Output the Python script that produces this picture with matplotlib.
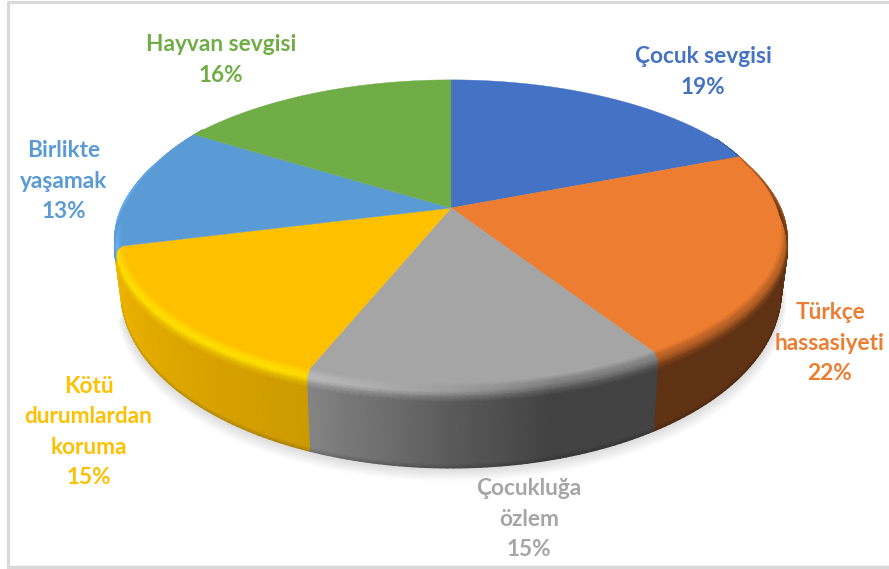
#!/usr/bin/env python3
"""Perspective 3D pie: slices are projected by hand, wall and bevel are gouraud meshes."""
import numpy as np
import matplotlib; matplotlib.use("Agg")
import matplotlib.pyplot as plt
from matplotlib.colors import to_rgb
from matplotlib.patches import Polygon

labels=["Çocuk sevgisi","Türkçe\nhassasiyeti","Çocukluğa\nözlem","Kötü\ndurumlardan\nkoruma","Birlikte\nyaşamak","Hayvan sevgisi"]
values=[19,22,15,15,13,16]
colors=["#4472C4","#ED7D31","#A5A5A5","#FFC000","#5B9BD5","#70AD47"]
label_xy=[(703,72),(830,343),(529,519),(88.5,432),(63.5,181),(221,60)]

CX,CY=451,208; R,H,K=331,149,0.163
edges=np.cumsum([0]+values)/sum(values)*360

def proj(th,r=1.0,dy=0.0,sx=1.0):
    t=np.radians(th); u=r*np.sin(t); v=r*np.cos(t); d=1+K*v
    return CX+sx*R*u/d, CY-H*v/d+dy

def wall_depth(th):
    return 52-30*np.cos(np.radians(th))
def shade(th):  # light comes from the left
    return np.interp(th,[60,165,180,201,260,290,360],[.40,.40,.55,.8,.95,1,1])
def shine(th):
    return np.interp(th,[165,205,270,290,300],[0,1,1,.5,0])
def bevel(th):
    return np.interp(th,[60,72,290,305],[0,1,1,0])

fig=plt.figure(figsize=(8.89,5.69),dpi=100)
ax=fig.add_axes([0,0,1,1]); ax.set_xlim(0,889); ax.set_ylim(569,0); ax.axis("off")

# frame
ax.plot([7.5,7.5,889],[569,1.5,1.5],color="#D9D9D9",lw=2.2,solid_capstyle="butt")
ax.plot([7.5,889],[566.5,566.5],color="#D9D9D9",lw=2.5,solid_capstyle="butt")

# soft shadow under the wall
ths=np.arange(80,256,1.0)
for k in range(12,0,-1):
    x,y=proj(ths,1.0,wall_depth(ths)+k*1.1,sx=0.985+k*0.0012)
    ax.add_patch(Polygon(np.c_[x,y],closed=True,fc="black",ec="none",alpha=0.012,zorder=1))

WALL_END=edges[4]   # yellow wall closes the silhouette on the left
RIM=[0,.33,.6,.8,1]

def rim_xy(t,th):
    w=bevel(th)
    return proj(th,1-0.016*w+0.019*w*min(t*1.6,1),15*w*t*t)

def rim_rgb(t,base,th):
    f=shade(th); h=shine(th)
    wall=base*f; hi=np.clip(base*1.17,0,1)
    mid=(base*.55+wall*.45)*(1-h)+hi*h
    if t<=.6: c=base+(mid-base)*t/.6
    else: c=mid+(wall-mid)*(t-.6)/.4
    return np.clip(c,0,1)

for i,c in enumerate(colors):
    base=np.array(to_rgb(c))
    lo,hi_=max(edges[i],60),min(edges[i+1],305)
    if lo>=hi_:
        continue
    th=np.r_[np.arange(lo,hi_,1.0),hi_]
    # bevel band
    X=np.array([[rim_xy(t,a)[0] for a in th] for t in RIM])
    Y=np.array([[rim_xy(t,a)[1] for a in th] for t in RIM])
    C=np.array([[rim_rgb(t,base,a) for a in th] for t in RIM])
    ax.pcolormesh(X,Y,C,shading="gouraud",zorder=2.5)
    # wall, drawn below the bevel
    tw=th[th<=WALL_END+.01]
    if len(tw)<2:
        continue
    x0,y0=np.array([rim_xy(1,a) for a in tw]).T
    x1,y1=proj(tw,1.0,wall_depth(tw),sx=0.985)
    wall=np.array([base*shade(a) for a in tw])
    X=np.array([x0,x0+(x1-x0)*.94,x1]); Y=np.array([y0,y0+(y1-y0)*.94,y1])
    C=np.array([wall,wall,wall*.82])
    ax.pcolormesh(X,Y,C,shading="gouraud",zorder=2)

# flat top of the slices
for i,c in enumerate(colors):
    t=np.arange(edges[i],edges[i+1]+.01,0.5); t[-1]=edges[i+1]
    x,y=proj(t,1-0.016*bevel(t))
    ax.add_patch(Polygon(np.r_[[[CX,CY]],np.c_[x,y]],closed=True,fc=c,ec=c,lw=0.3,zorder=3))

# labels
for lab,v,c,(x,y) in zip(labels,values,colors,label_xy):
    ax.text(x,y,f"{lab}\n{v}%",color=c,ha="center",va="center",fontsize=16.3,fontweight="bold",
            family="Lato",linespacing=1.53,zorder=5)

fig.savefig("out.png",dpi=100)
